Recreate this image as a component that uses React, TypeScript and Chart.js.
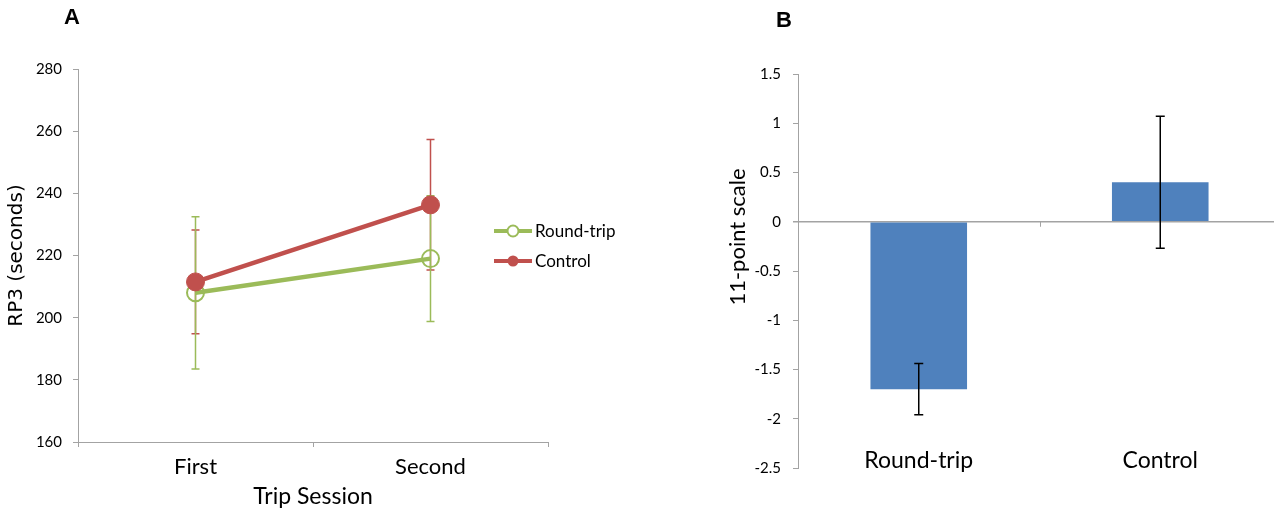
import React, { useEffect, useRef } from "react";
import { Chart, registerables } from "chart.js";

Chart.register(...registerables);

// ---------- Panel A data ----------
const sessions = ["First", "Second"];
const roundTripRP3 = [208, 219];
const roundTripRP3Err = [24.5, 20.2];
const controlRP3 = [211.5, 236.3];
const controlRP3Err = [16.7, 21];
const rp3Min = 160;
const rp3Max = 280;
const rp3Step = 20;

// ---------- Panel B data ----------
const groups = ["Round-trip", "Control"];
const scaleMeans = [-1.7, 0.4];
const scaleErr = [0.26, 0.67];
const scaleMin = -2.5;
const scaleMax = 1.5;
const scaleStep = 0.5;
const scaleTitle = "11-point scale";

const GREEN = "#9BBB59";
const RED = "#C0504D";
const BLUE = "#4F81BD";
const AXIS = "#A3A3A3";
const FONT = "Lato, 'Open Sans', sans-serif";

type ErrSpec = { datasetIndex: number; errors: number[]; color: string };

function makeErrorBarPlugin(specs: ErrSpec[], when: "before" | "after", lineWidth: number, cap: number) {
  const draw = (chart: any) => {
    const { ctx } = chart;
    const yScale = chart.scales.y;
    specs.forEach((spec) => {
      const meta = chart.getDatasetMeta(spec.datasetIndex);
      const ds = chart.data.datasets[spec.datasetIndex];
      meta.data.forEach((el: any, i: number) => {
        const v = ds.data[i] as number;
        const e = spec.errors[i];
        const x = el.x;
        const yt = yScale.getPixelForValue(v + e);
        const yb = yScale.getPixelForValue(v - e);
        ctx.save();
        ctx.strokeStyle = spec.color;
        ctx.lineWidth = lineWidth;
        ctx.beginPath();
        ctx.moveTo(x, yt);
        ctx.lineTo(x, yb);
        ctx.moveTo(x - cap, yt);
        ctx.lineTo(x + cap, yt);
        ctx.moveTo(x - cap, yb);
        ctx.lineTo(x + cap, yb);
        ctx.stroke();
        ctx.restore();
      });
    });
  };
  return {
    id: "errorBars" + when,
    beforeDatasetsDraw(chart: any) {
      if (when === "before") draw(chart);
    },
    afterDatasetsDraw(chart: any) {
      if (when === "after") draw(chart);
    },
  };
}

// custom legend for panel A (line + marker, like the original)
const legendPluginA = {
  id: "legendA",
  afterDraw(chart: any) {
    const { ctx, chartArea } = chart;
    const x0 = chartArea.right - 54;
    const lineLen = 38;
    const y0 = chartArea.top + 162;
    const gap = 30;
    chart.data.datasets.forEach((ds: any, i: number) => {
      const y = y0 + i * gap;
      ctx.save();
      ctx.strokeStyle = ds.borderColor;
      ctx.lineWidth = 4;
      ctx.beginPath();
      ctx.moveTo(x0, y);
      ctx.lineTo(x0 + lineLen, y);
      ctx.stroke();
      ctx.beginPath();
      ctx.arc(x0 + lineLen / 2, y, 5.5, 0, Math.PI * 2);
      if (ds.legendFilled) {
        ctx.fillStyle = ds.borderColor;
        ctx.fill();
      } else {
        ctx.fillStyle = "#ffffff";
        ctx.fill();
        ctx.lineWidth = 2;
        ctx.stroke();
      }
      ctx.fillStyle = "#000";
      ctx.font = "17px " + FONT;
      ctx.textBaseline = "middle";
      ctx.textAlign = "left";
      ctx.fillText(ds.label, x0 + lineLen + 3, y + 1);
      ctx.restore();
    });
  },
};

// panel B: boundary tick on the zero line, category labels placed low inside the plot, axis title
const decorPluginB = {
  id: "decorB",
  afterDatasetsDraw(chart: any) {
    const { ctx, chartArea } = chart;
    const xs = chart.scales.x;
    const ys = chart.scales.y;
    const y0 = ys.getPixelForValue(0);
    ctx.save();
    ctx.strokeStyle = AXIS;
    ctx.lineWidth = 1;
    for (let i = 0; i < groups.length - 1; i++) {
      const xm = Math.round((xs.getPixelForValue(i) + xs.getPixelForValue(i + 1)) / 2) + 0.5;
      ctx.beginPath();
      ctx.moveTo(xm, y0);
      ctx.lineTo(xm, y0 + 5);
      ctx.stroke();
    }
    ctx.restore();
  },
  afterDraw(chart: any) {
    const { ctx, chartArea } = chart;
    const xs = chart.scales.x;
    ctx.save();
    ctx.fillStyle = "#000";
    ctx.font = "23px " + FONT;
    ctx.textAlign = "center";
    ctx.textBaseline = "middle";
    xs.getLabels().forEach((lab: string, i: number) => {
      ctx.fillText(lab, xs.getPixelForValue(i), chartArea.bottom - 7);
    });
    // rotated y-axis title
    ctx.translate(chartArea.left - 60, chartArea.top + 163);
    ctx.rotate(-Math.PI / 2);
    ctx.font = "22px " + FONT;
    ctx.fillText(scaleTitle, 0, 0);
    ctx.restore();
  },
};

export default function App() {
  const refA = useRef<HTMLCanvasElement>(null);
  const refB = useRef<HTMLCanvasElement>(null);

  useEffect(() => {
    const chartA = new Chart(refA.current as HTMLCanvasElement, {
      type: "line",
      data: {
        labels: sessions,
        datasets: [
          {
            label: "Round-trip",
            data: roundTripRP3,
            borderColor: GREEN,
            borderWidth: 4.5,
            pointRadius: 8.5,
            pointBorderWidth: 2,
            pointBorderColor: GREEN,
            pointBackgroundColor: "rgba(255,255,255,0)",
            tension: 0,
            order: 1,
            legendFilled: false,
          } as any,
          {
            label: "Control",
            data: controlRP3,
            borderColor: RED,
            borderWidth: 4.5,
            pointRadius: 9,
            pointBorderWidth: 1,
            pointBorderColor: RED,
            pointBackgroundColor: RED,
            tension: 0,
            order: 0,
            legendFilled: true,
          } as any,
        ],
      },
      options: {
        responsive: false,
        animation: false,
        events: [],
        layout: { padding: { left: 0, top: 69, right: 92, bottom: 0 } },
        plugins: { legend: { display: false }, tooltip: { enabled: false } },
        scales: {
          x: {
            type: "category",
            offset: true,
            grid: { offset: true, drawOnChartArea: false, tickLength: 5, color: AXIS },
            border: { color: AXIS },
            ticks: { font: { family: FONT, size: 22 }, color: "#000", padding: 7 },
            title: {
              display: true,
              text: "Trip Session",
              font: { family: FONT, size: 23 },
              color: "#000",
              padding: { top: 0, bottom: 0 },
            },
            afterFit: (s: any) => {
              s.height = 68;
            },
          },
          y: {
            min: rp3Min,
            max: rp3Max,
            ticks: { stepSize: rp3Step, font: { family: FONT, size: 15 }, color: "#000", padding: 11 },
            grid: { drawOnChartArea: false, tickLength: 5, color: AXIS },
            border: { color: AXIS },
            title: {
              display: true,
              text: "RP3 (seconds)",
              font: { family: "'DejaVu Sans', sans-serif", size: 20 },
              color: "#000",
              padding: { top: 5, bottom: 0 },
            },
            afterFit: (s: any) => {
              s.width = 78;
            },
          },
        },
      },
      plugins: [
        makeErrorBarPlugin(
          [
            { datasetIndex: 1, errors: controlRP3Err, color: RED },
            { datasetIndex: 0, errors: roundTripRP3Err, color: GREEN },
          ],
          "before",
          1.5,
          4
        ),
        legendPluginA,
      ],
    });

    const chartB = new Chart(refB.current as HTMLCanvasElement, {
      type: "bar",
      data: {
        labels: groups,
        datasets: [
          {
            label: scaleTitle,
            data: scaleMeans,
            backgroundColor: BLUE,
            borderWidth: 0,
            barPercentage: 0.4,
            categoryPercentage: 1,
          },
        ],
      },
      options: {
        responsive: false,
        animation: false,
        events: [],
        layout: { padding: { left: 80, top: 74, right: 9, bottom: 0 } },
        plugins: { legend: { display: false }, tooltip: { enabled: false } },
        scales: {
          x: {
            type: "category",
            offset: true,
            grid: { display: false },
            border: { display: false },
            ticks: { display: false },
            afterFit: (s: any) => {
              s.height = 42;
            },
          },
          y: {
            min: scaleMin,
            max: scaleMax,
            ticks: {
              stepSize: scaleStep,
              font: { family: FONT, size: 15 },
              color: "#000",
              padding: 12,
              callback: (v: any) => String(Math.round(Number(v) * 10) / 10),
            },
            grid: {
              drawOnChartArea: true,
              tickLength: 5,
              tickColor: AXIS,
              color: (c: any) => (c.tick && c.tick.value === 0 ? AXIS : "rgba(0,0,0,0)"),
              lineWidth: (c: any) => (c.tick && c.tick.value === 0 ? 1.5 : 1),
            },
            border: { color: AXIS },
            afterFit: (s: any) => {
              s.width = 78;
            },
          },
        },
      },
      plugins: [
        decorPluginB,
        makeErrorBarPlugin([{ datasetIndex: 0, errors: scaleErr, color: "#000" }], "after", 1.5, 4.5),
      ],
    });

    return () => {
      chartA.destroy();
      chartB.destroy();
    };
  }, []);

  const letterStyle: React.CSSProperties = {
    position: "absolute",
    font: "bold 22px 'Liberation Sans', Arial, sans-serif",
    lineHeight: "22px",
    color: "#000",
  };

  return (
    <div
      style={{
        position: "fixed",
        left: 0,
        top: 0,
        width: 1274,
        height: 510,
        overflow: "hidden",
        background: "#fff",
      }}
    >
      <canvas ref={refA} width={640} height={510} style={{ position: "absolute", left: 0, top: 0 }} />
      <canvas ref={refB} width={650} height={510} style={{ position: "absolute", left: 640, top: 0 }} />
      <div style={{ ...letterStyle, left: 64, top: 6 }}>A</div>
      <div style={{ ...letterStyle, left: 776, top: 9 }}>B</div>
    </div>
  );
}
